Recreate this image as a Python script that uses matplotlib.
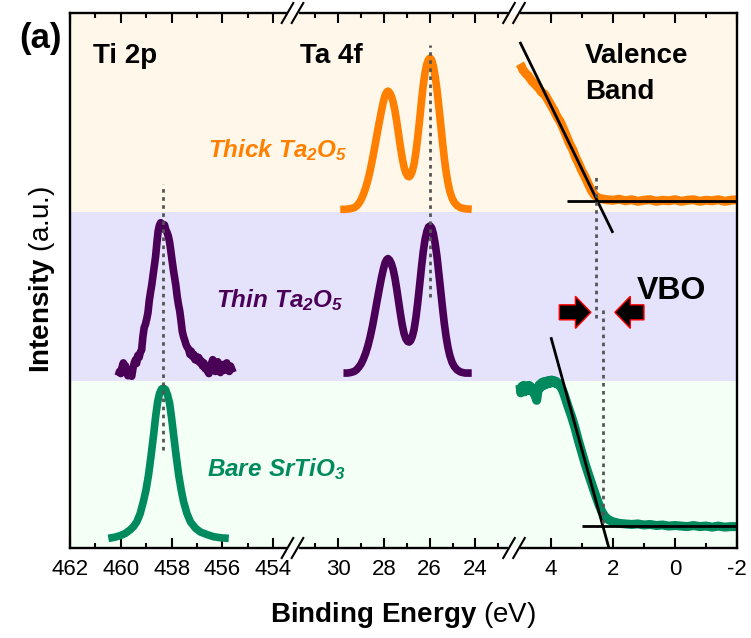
import matplotlib
matplotlib.use('Agg')
import matplotlib.pyplot as plt
from matplotlib.patches import FancyArrow
from matplotlib.lines import Line2D

plt.rcParams['font.family'] = ['Liberation Sans', 'DejaVu Sans']
plt.rcParams['mathtext.fontset'] = 'custom'
plt.rcParams['mathtext.rm'] = 'Liberation Sans:italic:bold'
plt.rcParams['mathtext.bf'] = 'Liberation Sans:bold'
plt.rcParams['mathtext.it'] = 'Liberation Sans:italic:bold'
plt.rcParams['axes.unicode_minus'] = False

# ---------------- data (binding energy, normalised intensity) ----------------
ti_bare_x = [460.49, 460.25, 460.03, 459.83, 459.63, 459.50, 459.37, 459.24, 459.11, 459.01,
             458.91, 458.81, 458.71, 458.63, 458.55, 458.48, 458.40, 458.32, 458.24, 458.16,
             458.08, 458.00, 457.92, 457.82, 457.72, 457.62, 457.53, 457.40, 457.26, 457.06,
             456.87, 456.60, 456.34, 456.05, 455.75]
ti_bare_y = [0.018, 0.020, 0.023, 0.027, 0.034, 0.040, 0.049, 0.064, 0.087, 0.108,
             0.136, 0.172, 0.211, 0.245, 0.273, 0.288, 0.297, 0.299, 0.296, 0.286,
             0.271, 0.243, 0.211, 0.172, 0.136, 0.108, 0.087, 0.065, 0.049, 0.037,
             0.030, 0.025, 0.021, 0.019, 0.018]

ti_thin_x = [460.10, 460.05, 460.00, 459.95, 459.90, 459.86, 459.82, 459.77, 459.72, 459.67,
             459.62, 459.57, 459.52, 459.47, 459.42, 459.38, 459.33, 459.28, 459.23, 459.18,
             459.13, 459.08, 459.03, 458.98, 458.93, 458.88, 458.83, 458.78, 458.73, 458.68,
             458.63, 458.58, 458.53, 458.48, 458.43, 458.38, 458.33, 458.28, 458.23, 458.18,
             458.13, 458.08, 458.03, 457.98, 457.93, 457.88, 457.83, 457.78, 457.73, 457.68,
             457.63, 457.58, 457.53, 457.48, 457.43, 457.38, 457.33, 457.28, 457.23, 457.18,
             457.13, 457.08, 457.03, 456.98, 456.93, 456.88, 456.83, 456.78, 456.73, 456.68,
             456.63, 456.58, 456.53, 456.48, 456.43, 456.38, 456.33, 456.28, 456.23, 456.18,
             456.13, 456.08, 456.03, 455.98, 455.93, 455.88, 455.83, 455.78, 455.73, 455.68,
             455.63, 455.58]
ti_thin_y = [0.322, 0.330, 0.326, 0.338, 0.346, 0.334, 0.341, 0.328, 0.322, 0.332,
             0.325, 0.321, 0.336, 0.346, 0.352, 0.345, 0.360, 0.356, 0.366, 0.370,
             0.395, 0.412, 0.418, 0.428, 0.440, 0.462, 0.478, 0.492, 0.510, 0.527,
             0.545, 0.570, 0.592, 0.603, 0.608, 0.606, 0.598, 0.604, 0.595, 0.590,
             0.583, 0.572, 0.555, 0.537, 0.520, 0.505, 0.490, 0.470, 0.455, 0.443,
             0.425, 0.405, 0.395, 0.388, 0.380, 0.375, 0.372, 0.362, 0.368, 0.358,
             0.362, 0.352, 0.358, 0.350, 0.356, 0.346, 0.350, 0.340, 0.346, 0.335,
             0.340, 0.330, 0.326, 0.335, 0.345, 0.352, 0.338, 0.330, 0.342, 0.348,
             0.335, 0.328, 0.336, 0.343, 0.332, 0.338, 0.346, 0.336, 0.330, 0.340,
             0.334, 0.328]

ta_thick_x = [29.91, 29.70, 29.50, 29.30, 29.20, 29.10, 29.00, 28.90, 28.80, 28.70,
              28.60, 28.50, 28.40, 28.30, 28.20, 28.10, 28.02, 27.95, 27.88, 27.82,
              27.75, 27.68, 27.60, 27.52, 27.44, 27.36, 27.28, 27.20, 27.12, 27.04,
              26.96, 26.90, 26.84, 26.76, 26.68, 26.60, 26.52, 26.44, 26.36, 26.28,
              26.20, 26.12, 26.05, 25.98, 25.91, 25.84, 25.76, 25.68, 25.60, 25.52,
              25.44, 25.36, 25.28, 25.20, 25.12, 25.02, 24.92, 24.80, 24.65, 24.45,
              24.16]
ta_thick_y = [0.633, 0.633, 0.634, 0.636, 0.639, 0.644, 0.651, 0.661, 0.673, 0.688,
              0.706, 0.727, 0.750, 0.774, 0.797, 0.819, 0.835, 0.846, 0.852, 0.854,
              0.851, 0.845, 0.834, 0.818, 0.797, 0.774, 0.750, 0.729, 0.712, 0.701,
              0.695, 0.694, 0.696, 0.704, 0.718, 0.740, 0.768, 0.800, 0.834, 0.865,
              0.889, 0.905, 0.913, 0.916, 0.912, 0.901, 0.882, 0.857, 0.826, 0.793,
              0.760, 0.729, 0.703, 0.683, 0.667, 0.654, 0.646, 0.640, 0.636, 0.634,
              0.633]

ta_thin_x = [29.77, 29.60, 29.45, 29.30, 29.20, 29.10, 29.00, 28.90, 28.80, 28.70,
             28.60, 28.50, 28.40, 28.30, 28.20, 28.10, 28.02, 27.95, 27.88, 27.82,
             27.75, 27.68, 27.60, 27.52, 27.44, 27.36, 27.28, 27.20, 27.12, 27.04,
             26.96, 26.90, 26.84, 26.76, 26.68, 26.60, 26.52, 26.44, 26.36, 26.28,
             26.20, 26.12, 26.05, 25.98, 25.91, 25.84, 25.76, 25.68, 25.60, 25.52,
             25.44, 25.36, 25.28, 25.20, 25.12, 25.02, 24.92, 24.80, 24.65, 24.45,
             24.16]
ta_thin_y = [0.327, 0.327, 0.328, 0.330, 0.333, 0.338, 0.344, 0.353, 0.364, 0.378,
             0.395, 0.415, 0.438, 0.462, 0.485, 0.507, 0.522, 0.533, 0.539, 0.541,
             0.538, 0.532, 0.521, 0.505, 0.484, 0.461, 0.438, 0.417, 0.401, 0.391,
             0.386, 0.385, 0.387, 0.395, 0.409, 0.431, 0.459, 0.491, 0.524, 0.554,
             0.577, 0.592, 0.600, 0.602, 0.598, 0.588, 0.569, 0.545, 0.514, 0.482,
             0.450, 0.420, 0.395, 0.375, 0.360, 0.347, 0.339, 0.333, 0.329, 0.327,
             0.327]

vb_thick_x = [5.00, 4.95, 4.90, 4.85, 4.80, 4.75, 4.70, 4.60, 4.50, 4.40, 4.30, 4.20, 4.10,
              4.00, 3.90, 3.80, 3.70, 3.60, 3.50, 3.40, 3.30, 3.20, 3.10, 3.00, 2.90, 2.80,
              2.70, 2.60, 2.50, 2.40, 2.20, 2.00, 1.80, 1.60, 1.40, 1.20, 1.00, 0.80, 0.60,
              0.40, 0.20, 0.00, -0.20, -0.40, -0.60, -0.80, -1.00, -1.20, -1.40, -1.60,
              -1.80, -2.00]
vb_thick_y = [0.905, 0.900, 0.893, 0.890, 0.886, 0.884, 0.880, 0.872, 0.866, 0.860, 0.852,
              0.848, 0.838, 0.828, 0.818, 0.806, 0.797, 0.784, 0.770, 0.756, 0.745, 0.730,
              0.718, 0.705, 0.694, 0.681, 0.669, 0.660, 0.655, 0.653, 0.651, 0.650, 0.652,
              0.649, 0.651, 0.648, 0.650, 0.651, 0.648, 0.650, 0.649, 0.651, 0.648, 0.650,
              0.651, 0.648, 0.650, 0.649, 0.651, 0.648, 0.650, 0.651]

vb_bare_x = [5.00, 4.97, 4.94, 4.91, 4.88, 4.85, 4.82, 4.79, 4.76, 4.73, 4.70, 4.67, 4.64,
             4.60, 4.56, 4.52, 4.48, 4.46, 4.44, 4.41, 4.38, 4.34, 4.30, 4.26, 4.22, 4.18,
             4.14, 4.10, 4.06, 4.02, 3.98, 3.94, 3.90, 3.86, 3.82, 3.78, 3.74, 3.70, 3.66,
             3.62, 3.58, 3.55, 3.45, 3.33, 3.22, 3.12, 3.00, 2.90, 2.80, 2.69, 2.58, 2.47,
             2.36, 2.26, 2.15, 2.00, 1.80, 1.60, 1.40, 1.20, 1.00, 0.80, 0.60, 0.40, 0.20,
             0.00, -0.20, -0.40, -0.60, -0.80, -1.00, -1.20, -1.40, -1.60, -1.80, -2.00]
vb_bare_y = [0.305, 0.290, 0.302, 0.293, 0.304, 0.292, 0.300, 0.294, 0.303, 0.296, 0.304,
             0.295, 0.301, 0.298, 0.290, 0.286, 0.280, 0.276, 0.284, 0.296, 0.305, 0.300,
             0.309, 0.303, 0.311, 0.305, 0.312, 0.307, 0.313, 0.308, 0.314, 0.309, 0.313,
             0.308, 0.311, 0.306, 0.307, 0.302, 0.299, 0.294, 0.288, 0.283, 0.265, 0.245,
             0.224, 0.202, 0.178, 0.158, 0.140, 0.121, 0.102, 0.084, 0.068, 0.059, 0.053,
             0.049, 0.046, 0.045, 0.044, 0.045, 0.043, 0.044, 0.042, 0.043, 0.041, 0.042,
             0.041, 0.040, 0.042, 0.040, 0.041, 0.039, 0.041, 0.039, 0.040, 0.040]

# linear fits (x pairs, y pairs)
fit_thick_edge_x = [5.0, 2.0]
fit_thick_edge_y = [0.946, 0.589]
fit_thick_base_x = [3.48, -2.0]
fit_thick_base_y = [0.649, 0.649]
fit_bare_edge_x = [4.0, 2.13]
fit_bare_edge_y = [0.394, 0.0]
fit_bare_base_x = [3.0, -2.0]
fit_bare_base_y = [0.041, 0.041]

# peak / onset markers: (x, y_start, y_end)
ti_peak = (458.35, 0.183, 0.680)
ta_peak = (25.98, 0.469, 0.940)
vbm_thick = (2.56, 0.430, 0.701)
vbm_bare = (2.32, 0.047, 0.449)

# axis segments
seg_limits = [(462, 453.24), (32.0, 22.31), (5.19, -2.0)]
seg_major = [[462, 460, 458, 456, 454], [30, 28, 26, 24], [4, 2, 0, -2]]
seg_minor = [[461, 459, 457, 455], [31, 29, 27, 25, 23], [3, 1, -1]]
seg_labels = [['462', '460', '458', '456', '454'], ['30', '28', '26', '24'],
              ['4', '2', '0', '-2']]

band_edges = [0.0, 0.3127, 0.6286, 1.0]
band_colors = ['#F4FFF6', '#E5E3FC', '#FFF8EA']

C_ORANGE = '#FF8000'
C_PURPLE = '#4B0058'
C_GREEN = '#008A5E'

# ---------------- figure ----------------
W, H = 751, 638
fig = plt.figure(figsize=(W / 100, H / 100), dpi=100)

xb = [70, 292.5, 514, 737]
top_px, bot_px = 13, 548
axes = []
for i in range(3):
    ax = fig.add_axes([xb[i] / W, (H - bot_px) / H, (xb[i + 1] - xb[i]) / W,
                       (bot_px - top_px) / H])
    ax.set_xlim(*seg_limits[i])
    ax.set_ylim(0, 1)
    for j in range(3):
        ax.axhspan(band_edges[j], band_edges[j + 1], color=band_colors[j], lw=0, zorder=0)
    ax.set_xticks(seg_major[i])
    ax.set_xticklabels(seg_labels[i])
    ax.set_xticks(seg_minor[i], minor=True)
    ax.set_yticks([])
    ax.tick_params(axis='x', which='major', direction='in', top=True, bottom=True,
                   length=7, width=1.5, labelsize=16, pad=8)
    ax.tick_params(axis='x', which='minor', direction='in', top=True, bottom=True,
                   length=3.5, width=1.5)
    for s in ax.spines.values():
        s.set_linewidth(1.7)
    ax.spines['left'].set_visible(i == 0)
    ax.spines['right'].set_visible(i == 2)
    ax.patch.set_alpha(0)
    axes.append(ax)

ax1, ax2, ax3 = axes
kw = dict(solid_capstyle='butt', solid_joinstyle='round', zorder=2)
ax1.plot(ti_bare_x, ti_bare_y, color=C_GREEN, lw=5.5, **kw)
ax1.plot(ti_thin_x, ti_thin_y, color=C_PURPLE, lw=5.5, **kw)
ax2.plot(ta_thick_x, ta_thick_y, color=C_ORANGE, lw=5.5, **kw)
ax2.plot(ta_thin_x, ta_thin_y, color=C_PURPLE, lw=5.5, **kw)
ax3.plot(vb_thick_x, vb_thick_y, color=C_ORANGE, lw=6.5, **kw)
ax3.plot(vb_bare_x, vb_bare_y, color=C_GREEN, lw=6.5, **kw)

for fx_, fy_ in [(fit_thick_edge_x, fit_thick_edge_y), (fit_thick_base_x, fit_thick_base_y),
                 (fit_bare_edge_x, fit_bare_edge_y), (fit_bare_base_x, fit_bare_base_y)]:
    ax3.plot(fx_, fy_, color='black', lw=2.0, zorder=3, solid_capstyle='butt')

dot = dict(color='#555555', lw=2.0, linestyle=(0, (1.3, 1.6)), zorder=4)
for ax, (x, y0, y1) in [(ax1, ti_peak), (ax2, ta_peak), (ax3, vbm_thick), (ax3, vbm_bare)]:
    ax.plot([x, x], [y0, y1], **dot)

# VBO arrows
arr_y = 0.4405
for x0, x1 in [(3.73, 2.71), (1.0, 1.94)]:
    ax3.add_patch(FancyArrow(x0, arr_y, x1 - x0, 0, width=0.028, head_width=0.060,
                             head_length=0.50, length_includes_head=True,
                             facecolor='black', edgecolor='red', lw=1.0, zorder=5))

# axis breaks
def fx(px):
    return px / W

def fy(py):
    return (H - py) / H

for cx in (292.5, 514):
    for cy in (top_px, bot_px):
        fig.add_artist(Line2D([fx(cx - 4), fx(cx + 4)], [fy(cy), fy(cy)], color='white',
                              lw=3, transform=fig.transFigure, zorder=10))
        for off in (-5, 5):
            fig.add_artist(Line2D([fx(cx + off - 5.8), fx(cx + off + 5.8)],
                                  [fy(cy + 10), fy(cy - 10)], color='black', lw=1.5,
                                  transform=fig.transFigure, zorder=11))

# texts
fig.text(fx(19), fy(48), '(a)', fontsize=25, fontweight='bold', va='baseline')
fig.text(fx(93), fy(63), 'Ti 2p', fontsize=20, fontweight='bold', va='baseline')
fig.text(fx(300), fy(63), 'Ta 4f', fontsize=20, fontweight='bold', va='baseline')
fig.text(fx(585), fy(63), 'Valence', fontsize=20, fontweight='bold', va='baseline')
fig.text(fx(585), fy(99), 'Band', fontsize=20, fontweight='bold', va='baseline')
fig.text(fx(637), fy(299), 'VBO', fontsize=23, fontweight='bold', va='baseline')

fig.text(fx(208), fy(157), r'$Thick\ Ta_2O_5$', fontsize=17.5, color=C_ORANGE,
         va='baseline')
fig.text(fx(216), fy(307), r'$Thin\ Ta_2O_5$', fontsize=17.5, color=C_PURPLE,
         va='baseline')
fig.text(fx(207), fy(476), r'$Bare\ SrTiO_3$', fontsize=17.5, color=C_GREEN,
         va='baseline')

fig.text(fx(403), fy(622), r'$\mathbf{Binding\ Energy}$ (eV)', fontsize=20, ha='center',
         va='baseline')
fig.text(fx(49), fy(373), r'$\mathbf{Intensity}$ (a.u.)', fontsize=20, rotation=90,
         rotation_mode='anchor', ha='left', va='baseline')

fig.savefig('out.png', dpi=100)
